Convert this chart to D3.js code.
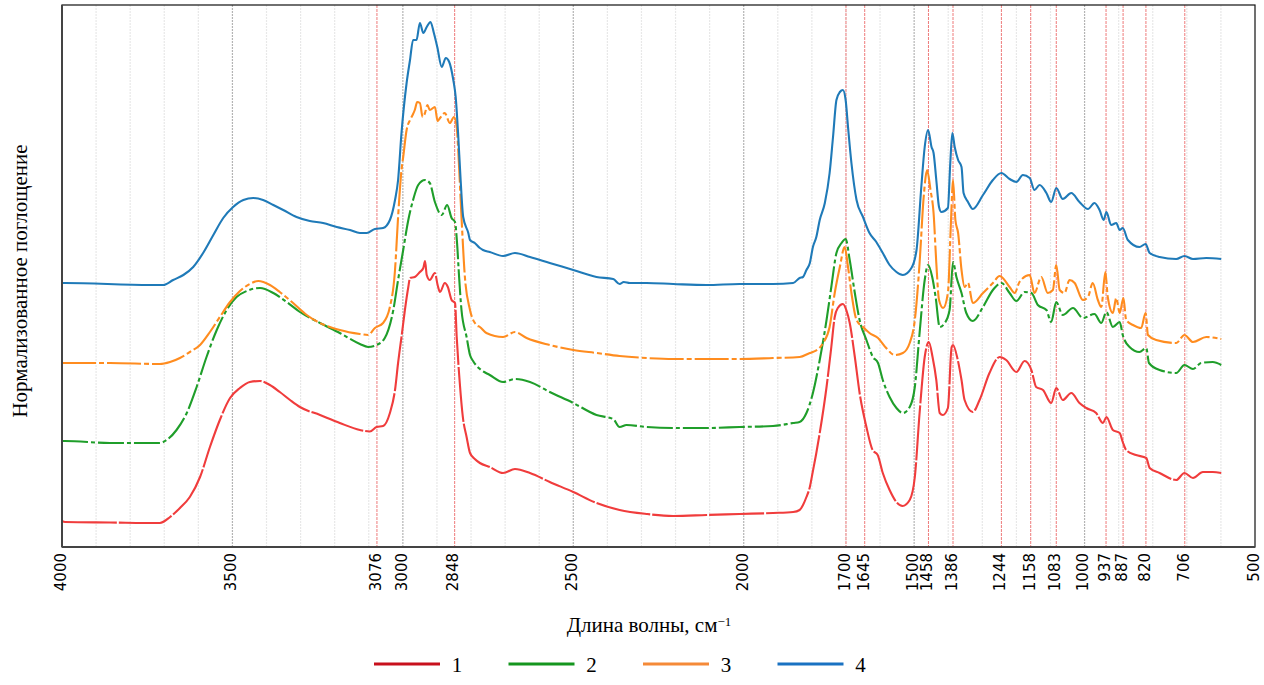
<!DOCTYPE html>
<html>
<head>
<meta charset="utf-8">
<script src="https://cdn.jsdelivr.net/npm/d3@7"></script>
<style>
	body { margin: 0; background: #fff; }
</style>
</head>
<body>
<div id="chart"></div>
<script>
// spectra: [wavenumber, normalized absorbance]
const spectrum1 = [[4000,0.26],[3991,0.25],[3859,0.245],[3713,0.24],[3683,0.30],[3654,0.39],[3625,0.50],[3595,0.70],[3566,1.00],[3537,1.27],[3507,1.49],[3478,1.59],[3449,1.65],[3419,1.66],[3390,1.62],[3361,1.55],[3331,1.47],[3302,1.40],[3243,1.32],[3185,1.24],[3126,1.17],[3097,1.155],[3077,1.20],[3058,1.21],[3038,1.34],[3023,1.57],[3014,1.84],[3004,2.10],[2994,2.37],[2984,2.60],[2979,2.69],[2965,2.70],[2950,2.75],[2940,2.79],[2935,2.86],[2930,2.72],[2921,2.67],[2906,2.74],[2898,2.62],[2891,2.55],[2877,2.64],[2868,2.60],[2857,2.47],[2847,2.44],[2842,2.10],[2833,1.64],[2824,1.30],[2813,1.10],[2803,0.94],[2789,0.88],[2774,0.84],[2745,0.80],[2706,0.74],[2671,0.78],[2627,0.74],[2569,0.65],[2500,0.55],[2432,0.44],[2364,0.37],[2285,0.33],[2207,0.31],[2109,0.32],[2012,0.33],[1914,0.34],[1855,0.35],[1836,0.37],[1826,0.42],[1816,0.50],[1806,0.60],[1797,0.76],[1787,0.94],[1777,1.14],[1757,1.60],[1743,2.00],[1733,2.30],[1724,2.39],[1709,2.43],[1699,2.37],[1689,2.24],[1674,1.90],[1660,1.54],[1640,1.20],[1622,0.97],[1607,0.92],[1592,0.74],[1572,0.57],[1552,0.45],[1534,0.41],[1513,0.47],[1498,0.70],[1484,1.34],[1469,1.90],[1457,2.05],[1446,1.90],[1435,1.67],[1425,1.34],[1416,1.32],[1401,1.39],[1390,2.00],[1386,2.02],[1372,1.87],[1361,1.67],[1352,1.47],[1328,1.35],[1308,1.47],[1279,1.74],[1249,1.90],[1230,1.87],[1200,1.75],[1176,1.86],[1156,1.77],[1142,1.60],[1122,1.57],[1098,1.44],[1083,1.59],[1064,1.47],[1039,1.54],[1015,1.44],[995,1.39],[966,1.34],[946,1.24],[936,1.30],[917,1.17],[897,1.14],[888,1.05],[878,0.97],[849,0.92],[819,0.89],[809,0.79],[780,0.74],[731,0.67],[707,0.74],[682,0.69],[653,0.75],[624,0.75],[599,0.74]];

const spectrum2 = [[4000,1.06],[3991,1.06],[3859,1.04],[3713,1.04],[3693,1.07],[3664,1.17],[3634,1.34],[3605,1.60],[3576,1.90],[3546,2.17],[3517,2.37],[3488,2.50],[3458,2.56],[3419,2.59],[3380,2.54],[3341,2.45],[3302,2.35],[3243,2.24],[3185,2.14],[3126,2.03],[3102,2.00],[3077,2.02],[3053,2.09],[3028,2.37],[3014,2.67],[2999,2.97],[2984,3.27],[2970,3.47],[2955,3.62],[2935,3.67],[2921,3.64],[2906,3.45],[2886,3.32],[2870,3.42],[2857,3.29],[2847,3.25],[2841,3.04],[2835,2.70],[2828,2.37],[2813,2.10],[2803,1.92],[2794,1.86],[2774,1.78],[2745,1.72],[2706,1.65],[2671,1.68],[2627,1.65],[2569,1.55],[2500,1.44],[2432,1.32],[2383,1.28],[2364,1.20],[2344,1.22],[2285,1.20],[2207,1.19],[2109,1.19],[2012,1.20],[1914,1.21],[1855,1.24],[1836,1.25],[1816,1.34],[1797,1.54],[1777,1.87],[1757,2.27],[1743,2.60],[1728,2.94],[1713,3.04],[1701,3.08],[1689,2.87],[1674,2.54],[1660,2.27],[1640,2.07],[1621,1.90],[1606,1.84],[1592,1.67],[1572,1.50],[1552,1.39],[1533,1.34],[1513,1.40],[1498,1.60],[1484,2.14],[1469,2.67],[1459,2.82],[1447,2.70],[1437,2.50],[1425,2.20],[1410,2.24],[1396,2.37],[1386,2.85],[1376,2.70],[1361,2.54],[1347,2.34],[1328,2.26],[1298,2.40],[1269,2.57],[1244,2.64],[1220,2.54],[1200,2.46],[1176,2.55],[1156,2.54],[1137,2.42],[1112,2.37],[1098,2.25],[1083,2.45],[1064,2.32],[1034,2.39],[1005,2.29],[971,2.33],[951,2.24],[936,2.35],[917,2.20],[897,2.25],[888,2.12],[868,2.00],[839,1.95],[819,1.99],[811,1.84],[780,1.77],[731,1.74],[707,1.82],[682,1.78],[658,1.84],[624,1.85],[599,1.82]];

const spectrum3 = [[4000,1.84],[3991,1.84],[3859,1.84],[3713,1.83],[3683,1.85],[3654,1.89],[3625,1.95],[3595,2.02],[3566,2.15],[3537,2.30],[3507,2.45],[3478,2.56],[3449,2.63],[3424,2.66],[3390,2.62],[3361,2.55],[3322,2.44],[3282,2.32],[3243,2.24],[3185,2.17],[3126,2.13],[3102,2.12],[3082,2.19],[3058,2.24],[3038,2.40],[3023,2.77],[3014,3.30],[3004,3.77],[2999,3.90],[2989,4.17],[2979,4.27],[2970,4.33],[2965,4.37],[2958,4.45],[2950,4.44],[2942,4.30],[2935,4.34],[2928,4.42],[2921,4.37],[2906,4.40],[2898,4.26],[2891,4.29],[2877,4.34],[2862,4.24],[2850,4.30],[2842,4.20],[2838,4.00],[2828,3.30],[2818,2.70],[2803,2.37],[2784,2.22],[2774,2.20],[2755,2.14],[2706,2.10],[2671,2.15],[2637,2.09],[2569,2.02],[2500,1.97],[2432,1.94],[2364,1.91],[2285,1.89],[2207,1.88],[2109,1.88],[2012,1.88],[1914,1.89],[1836,1.90],[1806,1.94],[1797,1.95],[1767,2.04],[1748,2.20],[1733,2.54],[1718,2.80],[1704,3.00],[1694,2.80],[1684,2.54],[1669,2.27],[1650,2.20],[1631,2.14],[1606,2.09],[1582,1.99],[1557,1.92],[1533,1.94],[1513,2.04],[1498,2.27],[1484,2.84],[1472,3.50],[1462,3.77],[1452,3.57],[1443,3.34],[1435,2.84],[1427,2.47],[1415,2.39],[1401,2.54],[1391,3.34],[1386,3.67],[1379,3.27],[1371,3.14],[1361,2.77],[1352,2.60],[1342,2.64],[1328,2.44],[1298,2.54],[1269,2.64],[1249,2.71],[1220,2.60],[1205,2.54],[1191,2.65],[1161,2.72],[1147,2.54],[1127,2.70],[1108,2.54],[1093,2.57],[1083,2.82],[1073,2.57],[1059,2.54],[1044,2.67],[1029,2.64],[1005,2.47],[990,2.50],[976,2.64],[961,2.47],[951,2.40],[939,2.75],[932,2.50],[917,2.34],[907,2.49],[897,2.34],[886,2.49],[878,2.27],[858,2.22],[834,2.19],[821,2.34],[814,2.12],[790,2.07],[731,2.04],[707,2.12],[682,2.05],[643,2.10],[599,2.08]];

const spectrum4 = [[4000,2.64],[3991,2.64],[3742,2.62],[3703,2.62],[3674,2.67],[3644,2.72],[3615,2.80],[3586,2.94],[3556,3.12],[3527,3.29],[3498,3.40],[3468,3.47],[3439,3.49],[3410,3.47],[3380,3.42],[3351,3.37],[3312,3.30],[3273,3.26],[3234,3.24],[3194,3.20],[3155,3.17],[3126,3.14],[3106,3.14],[3082,3.18],[3058,3.19],[3038,3.27],[3023,3.47],[3014,3.67],[3004,4.14],[2989,4.64],[2979,4.87],[2970,5.07],[2960,5.07],[2950,5.24],[2940,5.14],[2930,5.20],[2919,5.25],[2909,5.14],[2899,5.00],[2886,4.80],[2874,4.89],[2864,4.85],[2852,4.67],[2845,4.50],[2838,4.14],[2831,3.70],[2823,3.30],[2808,3.14],[2803,3.07],[2789,3.04],[2774,2.99],[2765,2.97],[2745,2.95],[2706,2.91],[2671,2.94],[2627,2.90],[2569,2.84],[2500,2.77],[2432,2.70],[2383,2.68],[2364,2.63],[2352,2.65],[2334,2.64],[2285,2.64],[2207,2.63],[2109,2.62],[2012,2.63],[1914,2.63],[1855,2.64],[1836,2.69],[1826,2.70],[1816,2.77],[1806,2.84],[1797,3.00],[1787,3.10],[1777,3.27],[1762,3.44],[1748,3.74],[1738,4.10],[1728,4.47],[1718,4.55],[1709,4.57],[1701,4.47],[1694,4.20],[1684,3.84],[1669,3.47],[1650,3.30],[1631,3.14],[1611,3.05],[1592,2.94],[1572,2.82],[1552,2.75],[1533,2.72],[1508,2.79],[1493,2.97],[1479,3.60],[1469,4.00],[1459,4.17],[1449,4.00],[1443,3.94],[1435,3.67],[1427,3.40],[1420,3.35],[1401,3.39],[1394,3.84],[1388,4.14],[1381,4.00],[1371,3.87],[1361,3.80],[1355,3.54],[1342,3.45],[1328,3.38],[1298,3.52],[1269,3.67],[1244,3.74],[1220,3.68],[1200,3.65],[1181,3.72],[1161,3.69],[1147,3.57],[1132,3.62],[1112,3.54],[1098,3.45],[1083,3.59],[1064,3.48],[1039,3.54],[1015,3.45],[990,3.38],[971,3.44],[956,3.37],[944,3.27],[936,3.35],[922,3.22],[907,3.24],[897,3.17],[888,3.19],[873,3.07],[839,3.00],[821,3.03],[809,2.94],[780,2.90],[731,2.88],[707,2.91],[682,2.88],[643,2.89],[599,2.88]];

const seriesNames = ["1", "2", "3", "4"];
const seriesColors = ["#f03c3c", "#1f9e2a", "#ff8c1f", "#1f7ab8"];
const legendColors = ["#c8101c", "#15961e", "#f58a38", "#1a72c2"];
const tickLabels = [4000, 3500, 3076, 3000, 2848, 2500, 2000, 1700, 1645, 1500, 1458, 1386, 1244, 1158, 1083, 1000, 937, 887, 820, 706, 500];
const peakLines = [3076, 2848, 1700, 1645, 1458, 1386, 1244, 1158, 1083, 937, 887, 820, 706];
const majorLines = [3500, 3000, 2500, 2000, 1500, 1000];
const minorLines = d3.range(3900, 500, -100).filter((d) => d % 500 !== 0);

const margin = { top: 5, right: 9, bottom: 138, left: 62 };
const width = 1264 - margin.left - margin.right;
const height = 685 - margin.top - margin.bottom;

const svg = d3
	.select("#chart")
	.append("svg")
	.attr("width", 1264)
	.attr("height", 685)
	.append("g")
	.attr("transform", `translate(${margin.left}, ${margin.top})`);

const x = d3.scaleLinear().domain([4000, 500]).range([0, width]);
const y = d3.scaleLinear().domain([0, 5.42]).range([height, 0]);

// grid lines
const grid = svg.append("g");
grid
	.selectAll(".minor")
	.data(minorLines)
	.join("line")
	.attr("x1", (d) => x(d))
	.attr("x2", (d) => x(d))
	.attr("y1", 0)
	.attr("y2", height)
	.style("stroke", "#e8e8e8")
	.style("stroke-width", 1.2)
	.style("stroke-dasharray", "2,1");
grid
	.selectAll(".major")
	.data(majorLines)
	.join("line")
	.attr("x1", (d) => x(d))
	.attr("x2", (d) => x(d))
	.attr("y1", 0)
	.attr("y2", height)
	.style("stroke", "#b4b4b4")
	.style("stroke-width", 1.2)
	.style("stroke-dasharray", "2,1");
grid
	.selectAll(".peak")
	.data(peakLines)
	.join("line")
	.attr("x1", (d) => x(d))
	.attr("x2", (d) => x(d))
	.attr("y1", 0)
	.attr("y2", height)
	.style("stroke", "#ee7b7b")
	.style("stroke-width", 1)
	.style("stroke-dasharray", "3,1");

// spectra
const line = d3
	.line()
	.x((d) => x(d[0]))
	.y((d) => y(d[1]))
	.curve(d3.curveMonotoneX);

const spectra = [spectrum1, spectrum2, spectrum3, spectrum4];
const dashes = ["55,2", "26,3,4,3", "34,3,5,3", null];
svg
	.selectAll(".spectrum")
	.data(spectra)
	.join("path")
	.attr("d", line)
	.style("fill", "none")
	.style("stroke", (d, i) => seriesColors[i])
	.style("stroke-width", 2.1)
	.style("stroke-linejoin", "round")
	.style("stroke-dasharray", (d, i) => dashes[i]);

// frame
svg
	.append("rect")
	.attr("x", 0)
	.attr("y", 0)
	.attr("width", width)
	.attr("height", height)
	.style("fill", "none")
	.style("stroke", "#111")
	.style("stroke-width", 1.2);
svg.append("line").attr("x1", 0).attr("x2", 0).attr("y1", 0).attr("y2", height).style("stroke", "#444").style("stroke-width", 2);
svg.append("line").attr("x1", 0).attr("x2", width).attr("y1", height).attr("y2", height).style("stroke", "#444").style("stroke-width", 2);

// x axis
const xAxis = svg
	.append("g")
	.attr("transform", `translate(0, ${height})`)
	.call(d3.axisBottom(x).tickValues(tickLabels).tickSize(0).tickFormat(d3.format("d")));
xAxis.select(".domain").remove();
xAxis
	.selectAll("text")
	.style("font-family", "DejaVu Sans")
	.style("font-size", "15px")
	.style("fill", "#000")
	.style("text-anchor", "end")
	.attr("x", -6)
	.attr("y", 0)
	.attr("dy", "0.22em")
	.attr("transform", "rotate(-90)");

// axis titles
const xTitle = svg
	.append("text")
	.attr("x", 587)
	.attr("y", 627)
	.attr("text-anchor", "middle")
	.style("font-family", "Liberation Serif")
	.style("font-size", "21px");
xTitle.append("tspan").text("Длина волны, см");
xTitle.append("tspan").attr("dy", "-0.5em").style("font-size", "13px").text("−1");

svg
	.append("text")
	.attr("transform", `translate(${-35}, ${height / 2 + 5}) rotate(-90)`)
	.attr("text-anchor", "middle")
	.style("font-family", "Liberation Serif")
	.style("font-size", "21px")
	.text("Нормализованное поглощение");

// legend
const legend = svg
	.append("g")
	.attr("transform", `translate(312, 659)`)
	.selectAll("g")
	.data(seriesNames)
	.join("g")
	.attr("transform", (d, i) => `translate(${i * 134.5}, 0)`);
legend
	.append("line")
	.attr("x1", 0)
	.attr("x2", 66)
	.style("stroke", (d, i) => legendColors[i])
	.style("stroke-width", 3);
legend
	.append("text")
	.attr("x", 83)
	.attr("y", 8)
	.attr("text-anchor", "middle")
	.style("font-family", "Liberation Serif")
	.style("font-size", "21px")
	.text((d) => d);
</script>
</body>
</html>
